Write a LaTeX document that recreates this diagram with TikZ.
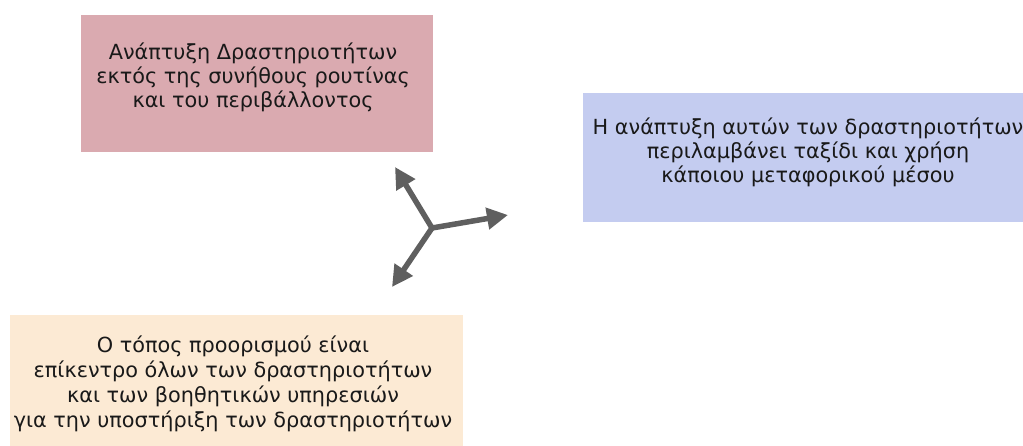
\documentclass[tikz,border=0pt]{standalone}
\usepackage{fontspec}
\setmainfont{DejaVu Sans}
\usetikzlibrary{arrows.meta}
\definecolor{pinkbox}{RGB}{218,170,176}
\definecolor{bluebox}{RGB}{196,204,240}
\definecolor{beigebox}{RGB}{252,234,212}
\definecolor{arrowgray}{RGB}{95,95,95}
\begin{document}
\begin{tikzpicture}[x=1pt,y=1pt,
  boxtext/.style={align=center,font=\fontsize{20.8}{24}\selectfont,text=black!90,inner sep=0pt},
  spoke/.style={draw=arrowgray,line width=5.5pt,-{Triangle[length=21pt,width=21pt]}}]
\useasboundingbox (0,0) rectangle (1023,445);
\clip (0,0) rectangle (1023,445);
% boxes
\fill[pinkbox] (81,293) rectangle (433,430);
\fill[bluebox] (583,223) rectangle (1035,352);
\fill[beigebox] (10,-5) rectangle (463,130);
% texts
\node[boxtext] (pink) at (253,368) {Ανάπτυξη Δραστηριοτήτων\\εκτός της συνήθους ρουτίνας\\και του περιβάλλοντος};
\node[boxtext] (blue) at (808,293) {Η ανάπτυξη αυτών των δραστηριοτήτων\\περιλαμβάνει ταξίδι και χρήση\\κάποιου μεταφορικού μέσου};
\node[boxtext,font=\fontsize{20.8}{25}\selectfont] (beige) at (233,61) {Ο τόπος προορισμού είναι\\επίκεντρο όλων των δραστηριοτήτων\\και των βοηθητικών υπηρεσιών\\για την υποστήριξη των δραστηριοτήτων};
% arrows
\coordinate (hub) at (432,217);
\coordinate (tipA) at (395,278);
\coordinate (tipB) at (508,230);
\coordinate (tipC) at (392,158);
\draw[spoke] (hub) -- (tipA);
\draw[spoke] (hub) -- (tipB);
\draw[spoke] (hub) -- (tipC);
\fill[arrowgray] (hub) circle (2.75pt);
\end{tikzpicture}
\end{document}
